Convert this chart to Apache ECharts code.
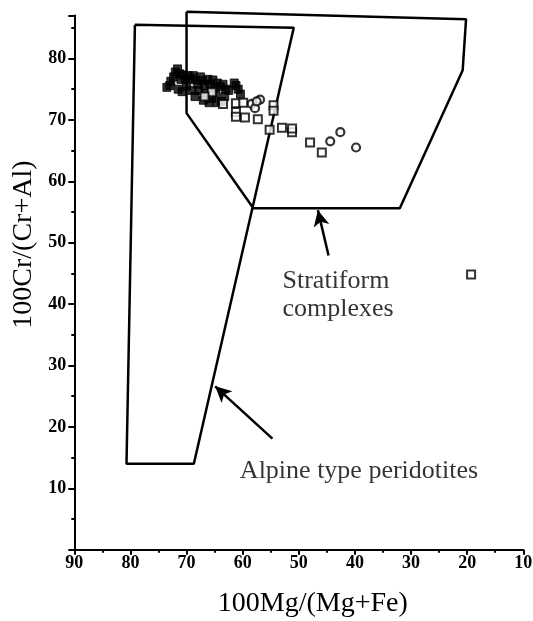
<!DOCTYPE html>
<html>
<head>
<meta charset="utf-8">
<script src="https://cdn.jsdelivr.net/npm/echarts@6/dist/echarts.min.js"></script>
<style>html,body{margin:0;padding:0;background:#fff;}#c{width:533px;height:621px;}</style>
</head>
<body>
<div id="c"></div>
<script>
// Field outlines (x = 100Mg/(Mg+Fe), y = 100Cr/(Cr+Al))
const alpineField = [[79.2,85.5],[50.9,85.0],[68.7,14.0],[80.7,14.0],[79.2,85.5]];
const stratiformField = [[70.0,87.6],[20.2,86.4],[20.8,78.1],[32.0,55.6],[58.1,55.6],[70.0,71.1],[70.0,87.6]];
const arrowStratiform = [[44.7,47.9],[46.6,55.3]];
const arrowAlpine = [[54.7,18.1],[64.9,26.6]];

// Spinel analyses
const denseCluster = [
  [73.5,75.3],[73.0,75.6],[72.8,76.3],[72.3,77.0],[72.0,77.8],[71.6,78.3],[71.2,77.5],[71.0,76.6],
  [70.6,77.3],[70.2,76.6],[70.0,75.5],[69.7,77.2],[69.2,76.8],[68.8,77.2],[68.4,76.5],[68.0,75.8],
  [67.8,74.8],[67.5,77.0],[67.2,76.4],[66.8,75.6],[66.6,74.3],[66.2,76.6],[65.8,75.8],[65.5,73.5],
  [65.3,76.5],[65.0,75.2],[64.6,72.8],[64.5,76.0],[64.0,75.4],[63.8,73.0],[63.5,75.8],[63.0,75.0],
  [62.5,74.8],[61.2,75.6],[60.8,75.0],[60.4,74.2],[61.5,76.0],[68.5,73.8],[69.0,74.8],[67.0,73.2],
  [66.0,72.8],[64.8,74.3],[63.2,73.8],[71.5,75.0],[70.8,74.6]
];
const openSquares = [
  [63.5,72.6],[61.2,72.7],[59.9,72.8],[61.2,71.3],[61.2,70.5],[59.6,70.4],[57.3,70.1],
  [54.5,72.4],[54.5,71.5],[55.2,68.4],[53.0,68.7],[51.2,68.0],[51.2,68.6],[48.0,66.3],
  [45.9,64.7],[19.3,44.8],[65.5,74.5],[66.8,73.8]
];
const openCircles = [
  [58.4,72.6],[57.8,71.9],[56.9,73.3],[57.5,73.0],[44.4,66.5],[42.6,68.0],[39.8,65.5]
];

// Annotation anchors
const notes = [
  [52.9,41.5,'Stratiform\ncomplexes'],
  [60.5,12.8,'Alpine type peridotites']
];

const xTicks = {min:10, max:90, interval:10};
const yTicks = {min:0, max:87, interval:10};

const serif = 'Liberation Serif';
const chart = echarts.init(document.getElementById('c'));
const lineStyle = {color:'#000', width:2.5};

chart.setOption({
  backgroundColor:'#fff',
  animation:false,
  grid:{left:74.3, right:9.7, top:15.5, bottom:71.3, containLabel:false, outerBoundsMode:'none'},
  xAxis:{
    type:'value', inverse:true, min:xTicks.min, max:xTicks.max, interval:xTicks.interval,
    name:'100Mg/(Mg+Fe)', nameLocation:'middle', nameGap:40,
    nameTextStyle:{fontFamily:serif, fontSize:28, color:'#000', padding:[0,0,0,28]},
    axisLine:{show:true, onZero:false, lineStyle:{color:'#000', width:2}},
    axisTick:{show:true, length:5, lineStyle:{color:'#000', width:2}},
    minorTick:{show:true, splitNumber:2, length:3, lineStyle:{color:'#000', width:2}},
    splitLine:{show:false},
    axisLabel:{fontFamily:serif, fontWeight:'bold', fontSize:18, color:'#000', margin:5}
  },
  yAxis:{
    type:'value', min:yTicks.min, max:yTicks.max, interval:yTicks.interval,
    name:'100Cr/(Cr+Al)', nameLocation:'middle', nameGap:36, nameRotate:90,
    nameTextStyle:{fontFamily:serif, fontSize:28, color:'#000', padding:[0,0,0,76]},
    axisLine:{show:true, onZero:false, lineStyle:{color:'#000', width:2}},
    axisTick:{show:true, length:6, lineStyle:{color:'#000', width:2}},
    minorTick:{show:true, splitNumber:2, length:3, lineStyle:{color:'#000', width:2}},
    splitLine:{show:false},
    axisLabel:{fontFamily:serif, fontWeight:'bold', fontSize:18, color:'#000', margin:8,
      formatter:v => (v > 0 && v % 10 === 0) ? String(v) : ''}
  },
  series:[
    {type:'line', data:alpineField, symbol:'none', clip:false, lineStyle, z:2,
      markLine:{silent:true, symbol:['none','arrow'], symbolSize:[12,16], animation:false,
        lineStyle:{color:'#000', width:2.5, type:'solid'}, label:{show:false},
        data:[
          [{coord:arrowStratiform[0]},{coord:arrowStratiform[1]}],
          [{coord:arrowAlpine[0]},{coord:arrowAlpine[1]}]
        ]}},
    {type:'line', data:stratiformField, symbol:'none', clip:false, lineStyle, z:2},
    {type:'scatter', data:denseCluster, symbol:'rect', symbolSize:8, z:4,
      itemStyle:{color:'#000', borderColor:'#000', borderWidth:1}},
    {type:'scatter', data:openSquares, symbol:'rect', symbolSize:8, z:5,
      itemStyle:{color:'#fff', borderColor:'#000', borderWidth:2}},
    {type:'scatter', data:openCircles, symbol:'circle', symbolSize:8, z:5,
      itemStyle:{color:'#fff', borderColor:'#000', borderWidth:2.2}},
    {type:'scatter', data:notes, symbolSize:0, z:6, silent:true,
      label:{show:true, position:[0,0], align:'left', verticalAlign:'middle',
        formatter:p => p.data[2], fontFamily:serif, fontSize:26, lineHeight:28, color:'#000'}}
  ]
});
</script>
</body>
</html>
